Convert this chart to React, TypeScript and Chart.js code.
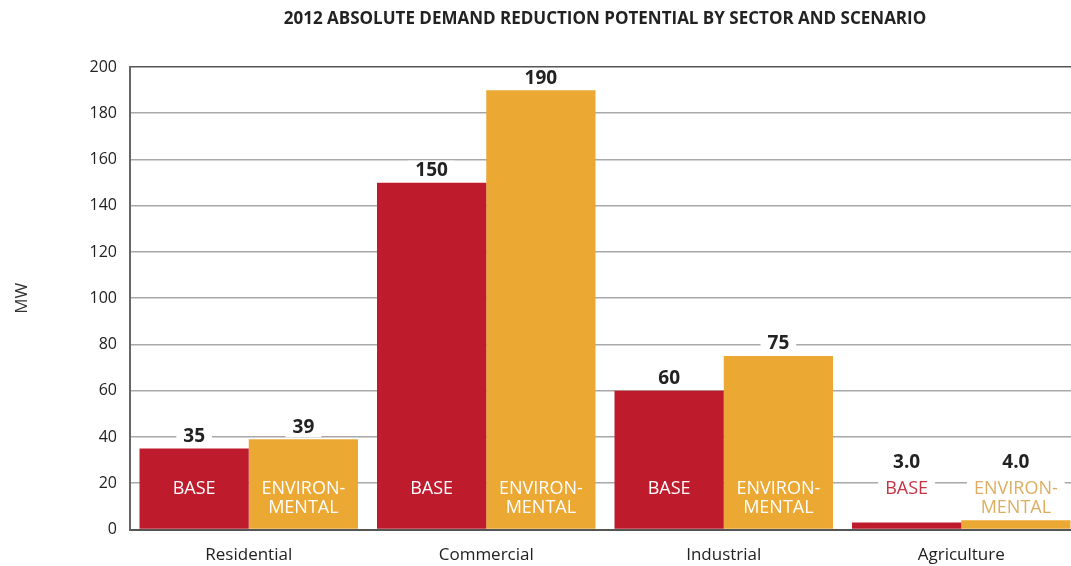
import React, { useEffect, useRef } from 'react';
import { Chart, registerables } from 'chart.js';

Chart.register(...registerables);

const chartTitle = '2012 ABSOLUTE DEMAND REDUCTION POTENTIAL BY SECTOR AND SCENARIO';
const categories = ['Residential', 'Commercial', 'Industrial', 'Agriculture'];
const baseValues = [35, 150, 60, 3.0];
const environmentalValues = [39, 190, 75, 4.0];
const seriesNames = ['BASE', 'ENVIRONMENTAL'];
const seriesBarLabels = [['BASE'], ['ENVIRON-', 'MENTAL']];
const seriesColors = ['#BE1B2D', '#EBA833'];
const seriesOutsideTextColors = ['#C63444', '#DDAE62'];
const yAxisTitle = 'MW';
const yMin = 0;
const yMax = 200;
const yStep = 20;

const FONT = '"Open Sans", "DejaVu Sans", sans-serif';

const barLabelPlugin = {
  id: 'barLabels',
  afterDatasetsDraw(chart: any) {
    const ctx = chart.ctx;
    const yScale = chart.scales.y;
    const y0 = yScale.getPixelForValue(0);
    const line1 = y0 - 41;
    const line2 = y0 - 22;
    const regionTop = y0 - 55;
    chart.data.datasets.forEach((ds: any, di: number) => {
      const meta = chart.getDatasetMeta(di);
      meta.data.forEach((bar: any, i: number) => {
        const v = ds.data[i];
        const x = bar.x;
        const lines = seriesBarLabels[di];
        const inside = bar.y < regionTop;
        ctx.save();
        ctx.textAlign = 'center';
        ctx.textBaseline = 'middle';
        ctx.font = `18px ${FONT}`;
        lines.forEach((t: string, li: number) => {
          const ly = li === 0 ? line1 : line2;
          if (!inside) {
            const w = ctx.measureText(t).width;
            ctx.fillStyle = '#ffffff';
            ctx.fillRect(x - w / 2 - 7, ly - 9, w + 14, 18);
          }
          ctx.fillStyle = inside ? '#ffffff' : seriesOutsideTextColors[di];
          ctx.fillText(t, x, ly);
        });
        const vy = Math.min(bar.y, regionTop) - 12;
        ctx.font = `bold 19px ${FONT}`;
        const txt = v < 10 ? v.toFixed(1) : String(v);
        const w = ctx.measureText(txt).width;
        ctx.fillStyle = '#ffffff';
        ctx.fillRect(x - w / 2 - 7, vy - 10, w + 14, 20);
        ctx.fillStyle = '#222222';
        ctx.fillText(txt, x, vy);
        ctx.restore();
      });
    });
  },
};

export default function App() {
  const canvasRef = useRef<HTMLCanvasElement | null>(null);

  useEffect(() => {
    if (!canvasRef.current) return;
    const chart = new Chart(canvasRef.current, {
      type: 'bar',
      data: {
        labels: categories,
        datasets: [
          {
            label: seriesNames[0],
            data: baseValues,
            backgroundColor: seriesColors[0],
            borderWidth: 0,
            barPercentage: 1.0,
            categoryPercentage: 0.92,
          },
          {
            label: seriesNames[1],
            data: environmentalValues,
            backgroundColor: seriesColors[1],
            borderWidth: 0,
            barPercentage: 1.0,
            categoryPercentage: 0.92,
          },
        ],
      },
      options: {
        responsive: false,
        animation: false,
        layout: { padding: 0 },
        plugins: {
          legend: { display: false },
          tooltip: { enabled: false },
          title: {
            display: true,
            fullSize: false,
            text: chartTitle,
            color: '#222222',
            font: { family: FONT, size: 17, weight: 'bold' },
            padding: { top: 8.5, bottom: 38.1 },
          },
        },
        scales: {
          x: {
            grid: { display: false, drawTicks: false },
            border: { display: true, color: '#555555', width: 2 },
            ticks: {
              color: '#222222',
              font: { family: FONT, size: 17 },
              padding: 15,
            },
            afterFit: (scale: any) => {
              scale.height = 36.5;
            },
          },
          y: {
            min: yMin,
            max: yMax,
            grid: {
              drawTicks: false,
              color: (c: any) => (c.tick && c.tick.value === yMax ? '#555555' : '#a8a8a8'),
              lineWidth: 1.6,
            },
            border: { display: true, color: '#666666', width: 2 },
            ticks: {
              stepSize: yStep,
              color: '#222222',
              font: { family: FONT, size: 16 },
              padding: 13,
            },
            title: {
              display: true,
              text: yAxisTitle,
              color: '#333333',
              font: { family: FONT, size: 17 },
              padding: { top: 12, bottom: 0 },
            },
            afterFit: (scale: any) => {
              scale.width = 130;
            },
          },
        },
      },
      plugins: [barLabelPlugin],
    });
    return () => chart.destroy();
  }, []);

  return (
    <div
      style={{
        position: 'fixed',
        left: 0,
        top: 0,
        width: 1071,
        height: 566,
        overflow: 'hidden',
        background: '#ffffff',
      }}
    >
      <canvas ref={canvasRef} width={1080} height={566} style={{ display: 'block' }} />
    </div>
  );
}
